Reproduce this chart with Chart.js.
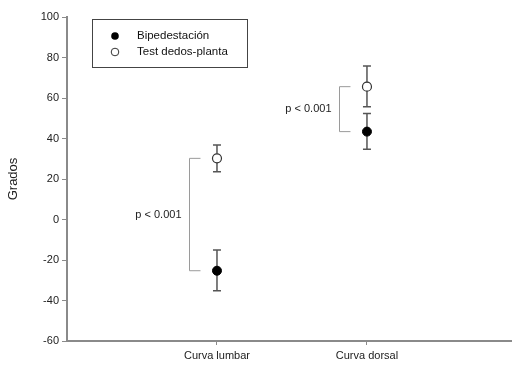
<!DOCTYPE html>
<html>
<head>
<meta charset="utf-8">
<script src="https://cdn.jsdelivr.net/npm/chart.js@4.4.1/dist/chart.umd.min.js"></script>
<style>
  html, body { margin: 0; padding: 0; background: #fff; }
  #wrap { width: 512px; height: 365px; position: relative; }
</style>
</head>
<body>
<div id="wrap"><canvas id="c"></canvas></div>
<script>
// ============================================================
// Data
// ============================================================
var categories   = ['Curva lumbar', 'Curva dorsal'];
var catX         = [1, 2];
var seriesNames  = ['Bipedestación', 'Test dedos-planta'];

var bipMean  = [-25.3, 43.4];
var bipLow   = [-35.2, 34.7];
var bipHigh  = [-15.1, 52.4];

var testMean = [30.2, 65.6];
var testLow  = [23.6, 55.7];
var testHigh = [36.8, 75.8];

var yTicks   = [-60, -40, -20, 0, 20, 40, 60, 80, 100];
var pLabels  = ['p < 0.001', 'p < 0.001'];

var FONT = '"Liberation Sans", Arial, sans-serif';
var AXIS = '#8a8a8a';
var ERR  = '#555555';

function pts(vals) {
  return vals.map(function(v, i) { return { x: catX[i], y: v }; });
}

// error bars, significance brackets and legend box
var extras = {
  id: 'extras',
  beforeDatasetsDraw: function(chart) {
    var ctx = chart.ctx, xs = chart.scales.x, ys = chart.scales.y;
    ctx.save();
    // error bars
    ctx.strokeStyle = ERR;
    ctx.lineWidth = 1.5;
    [[bipLow, bipHigh], [testLow, testHigh]].forEach(function(pair) {
      catX.forEach(function(cx, i) {
        var px = xs.getPixelForValue(cx);
        var y1 = ys.getPixelForValue(pair[0][i]);
        var y2 = ys.getPixelForValue(pair[1][i]);
        ctx.beginPath();
        ctx.moveTo(px, y1); ctx.lineTo(px, y2);
        ctx.moveTo(px - 4, y1); ctx.lineTo(px + 4, y1);
        ctx.moveTo(px - 4, y2); ctx.lineTo(px + 4, y2);
        ctx.stroke();
      });
    });
    // brackets between the two means
    ctx.strokeStyle = '#9a9a9a';
    ctx.lineWidth = 1;
    ctx.fillStyle = '#222';
    ctx.font = '11px ' + FONT;
    ctx.textAlign = 'right';
    ctx.textBaseline = 'middle';
    catX.forEach(function(cx, i) {
      var bx = Math.round(xs.getPixelForValue(cx - 0.185)) + 0.5;
      var ex = xs.getPixelForValue(cx - 0.11);
      var yt = ys.getPixelForValue(testMean[i]);
      var yb = ys.getPixelForValue(bipMean[i]);
      ctx.beginPath();
      ctx.moveTo(ex, yt); ctx.lineTo(bx, yt); ctx.lineTo(bx, yb); ctx.lineTo(ex, yb);
      ctx.stroke();
      ctx.fillText(pLabels[i], bx - 8, (yt + yb) / 2);
    });
    ctx.restore();
  },
  afterDraw: function(chart) {
    var ctx = chart.ctx, a = chart.chartArea;
    var lx = a.left + 25, ly = a.top + 2;
    ctx.save();
    ctx.strokeStyle = '#444';
    ctx.lineWidth = 1;
    ctx.strokeRect(lx + 0.5, ly + 0.5, 155, 48);
    ctx.font = '11.5px ' + FONT;
    ctx.textAlign = 'left';
    ctx.textBaseline = 'middle';
    ctx.fillStyle = '#111';
    seriesNames.forEach(function(name, i) {
      var my = ly + 17 + i * 16;
      ctx.beginPath();
      ctx.arc(lx + 23, my, 3.8, 0, Math.PI * 2);
      if (i === 0) { ctx.fillStyle = '#000'; ctx.fill(); }
      else { ctx.fillStyle = '#fff'; ctx.fill(); ctx.strokeStyle = '#333'; ctx.stroke(); }
      ctx.fillStyle = '#111';
      ctx.fillText(name, lx + 45, my);
    });
    ctx.restore();
  }
};

new Chart(document.getElementById('c'), {
  type: 'scatter',
  data: {
    datasets: [
      {
        label: seriesNames[0],
        data: pts(bipMean),
        pointRadius: 4.5,
        pointBackgroundColor: '#000',
        pointBorderColor: '#000',
        pointBorderWidth: 1
      },
      {
        label: seriesNames[1],
        data: pts(testMean),
        pointRadius: 4.5,
        pointBackgroundColor: '#fff',
        pointBorderColor: '#333',
        pointBorderWidth: 1.2
      }
    ]
  },
  plugins: [extras],
  options: {
    responsive: true,
    maintainAspectRatio: false,
    animation: false,
    layout: { autoPadding: false, padding: { top: 17, right: 0, left: 0, bottom: 0 } },
    plugins: { legend: { display: false }, tooltip: { enabled: false } },
    scales: {
      x: {
        type: 'linear',
        min: 0,
        max: 2.967,
        afterBuildTicks: function(s) { s.ticks = catX.map(function(v) { return { value: v }; }); },
        afterFit: function(s) { s.height = 24; s.paddingLeft = 0; s.paddingRight = 0; },
        ticks: {
          font: { size: 11, family: FONT },
          color: '#222',
          padding: 4,
          maxRotation: 0,
          autoSkip: false,
          callback: function(v) { var i = catX.indexOf(v); return i >= 0 ? categories[i] : ''; }
        },
        grid: { drawOnChartArea: false, tickLength: 4, color: AXIS, lineWidth: 1 },
        border: { color: AXIS, width: 2 }
      },
      y: {
        min: -60,
        max: 100,
        afterBuildTicks: function(s) { s.ticks = yTicks.map(function(v) { return { value: v }; }); },
        afterFit: function(s) { s.width = 67; },
        title: {
          display: true,
          text: 'Grados',
          font: { size: 13, family: FONT },
          color: '#222',
          padding: { top: 6, bottom: 4 }
        },
        ticks: {
          font: { size: 11, family: FONT },
          color: '#222',
          padding: 3
        },
        grid: { drawOnChartArea: false, tickLength: 5, color: AXIS, lineWidth: 1 },
        border: { color: AXIS, width: 2 }
      }
    }
  }
});
</script>
</body>
</html>
